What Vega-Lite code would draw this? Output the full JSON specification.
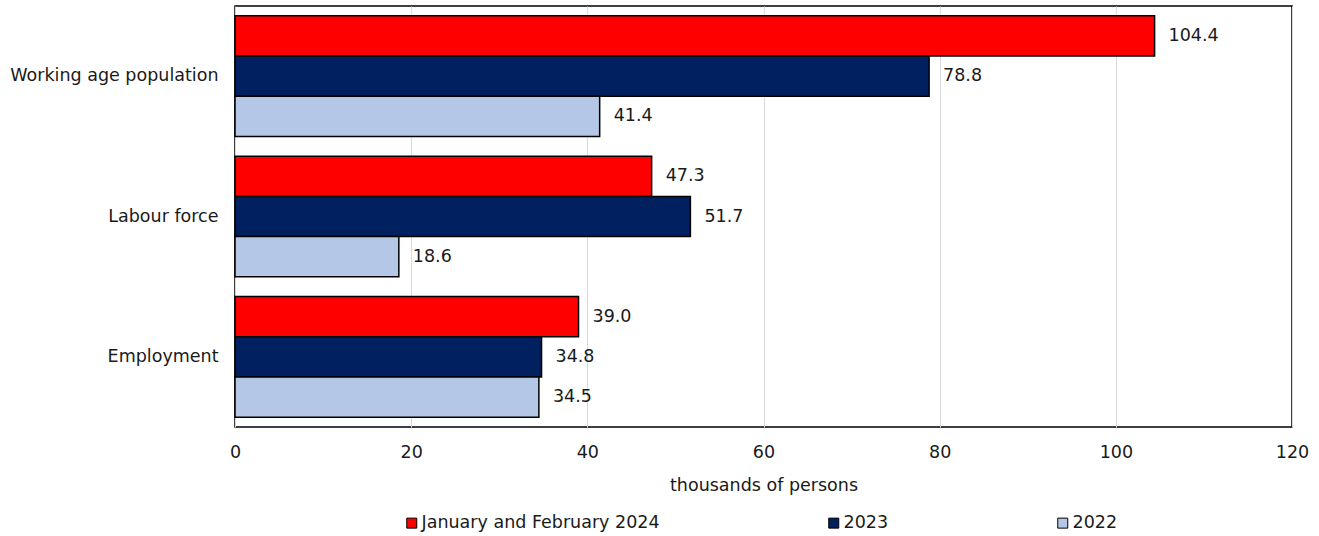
{
  "$schema": "https://vega.github.io/schema/vega-lite/v6.json",
  "autosize": {"type": "none"},
  "width": 1057,
  "height": 421,
  "padding": {"left": 235, "top": 6, "right": 27, "bottom": 109},
  "config": {
    "font": "DejaVu Sans",
    "view": {"stroke": "#000000", "strokeWidth": 1.5},
    "axis": {"labelColor": "#1a1a1a", "titleColor": "#1a1a1a", "labelFontSize": 17.5, "titleFontSize": 17.5, "titleFontWeight": "normal"},
    "legend": {"labelColor": "#1a1a1a"}
  },
  "data": {
    "values": [
      {"category": "Working age population", "series": "January and February 2024", "value": 104.4},
      {"category": "Working age population", "series": "2023", "value": 78.8},
      {"category": "Working age population", "series": "2022", "value": 41.4},
      {"category": "Labour force", "series": "January and February 2024", "value": 47.3},
      {"category": "Labour force", "series": "2023", "value": 51.7},
      {"category": "Labour force", "series": "2022", "value": 18.6},
      {"category": "Employment", "series": "January and February 2024", "value": 39.0},
      {"category": "Employment", "series": "2023", "value": 34.8},
      {"category": "Employment", "series": "2022", "value": 34.5}
    ]
  },
  "encoding": {
    "y": {
      "field": "category",
      "type": "nominal",
      "sort": ["Working age population", "Labour force", "Employment"],
      "scale": {"paddingInner": 0.14, "paddingOuter": 0.07},
      "axis": {"title": null, "ticks": false, "domain": false, "labelPadding": 17, "labelLimit": 400}
    },
    "yOffset": {
      "field": "series",
      "type": "nominal",
      "sort": ["January and February 2024", "2023", "2022"]
    },
    "x": {
      "field": "value",
      "type": "quantitative",
      "scale": {"domain": [0, 120], "nice": false},
      "axis": {
        "title": "thousands of persons",
        "values": [0, 20, 40, 60, 80, 100, 120],
        "ticks": false,
        "domain": false,
        "grid": true,
        "gridColor": "#d9d9d9",
        "gridWidth": 1,
        "labelFlush": false,
        "labelPadding": 16,
        "titlePadding": 16
      }
    }
  },
  "layer": [
    {
      "mark": {"type": "bar", "stroke": "#000000", "strokeWidth": 1.5},
      "encoding": {
        "color": {
          "field": "series",
          "type": "nominal",
          "sort": ["January and February 2024", "2023", "2022"],
          "scale": {
            "domain": ["January and February 2024", "2023", "2022"],
            "range": ["#ff0000", "#002060", "#b4c7e7"]
          },
          "legend": {
            "title": null,
            "orient": "none",
            "direction": "horizontal",
            "columns": 3,
            "legendX": 168,
            "legendY": 508,
            "padding": 0,
            "symbolType": "square",
            "symbolSize": 100,
            "symbolStrokeColor": "#000000",
            "symbolStrokeWidth": 1,
            "labelFontSize": 17.5,
            "labelOffset": 1,
            "labelLimit": 400,
            "columnPadding": 165
          }
        }
      }
    },
    {
      "mark": {"type": "text", "align": "left", "baseline": "middle", "dx": 14, "fontSize": 17.5, "color": "#1a1a1a"},
      "encoding": {
        "text": {"field": "value", "type": "quantitative", "format": ".1f"}
      }
    }
  ]
}
